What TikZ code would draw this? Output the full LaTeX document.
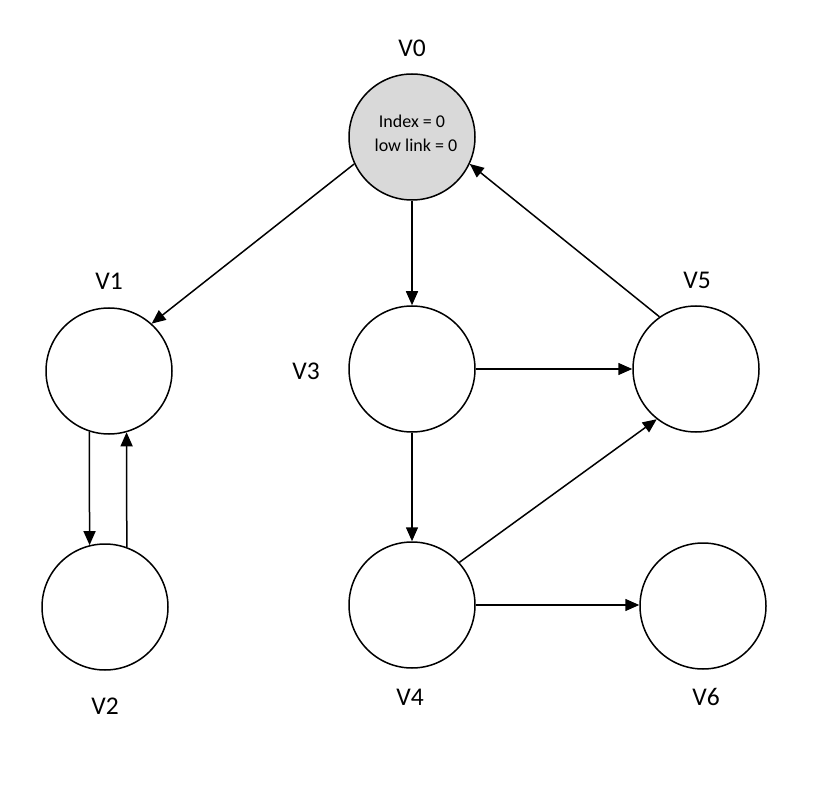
\documentclass[tikz,border=0pt]{standalone}
\usepackage{fontspec}
\setmainfont{Carlito}
\usetikzlibrary{arrows.meta}
\begin{document}
\begin{tikzpicture}[x=1pt,y=-1pt,
  vert/.style={circle,draw=black,line width=1.5pt,minimum size=126pt,inner sep=0pt},
  lbl/.style={font=\fontsize{25.5}{28}\selectfont},
  itxt/.style={font=\fontsize{18}{20}\selectfont},
  edge/.style={line width=1.5pt,-{Triangle[length=14pt,width=12pt]}}]
\useasboundingbox (0,0) rectangle (830,786);
\node[vert,fill={rgb,255:red,217;green,217;blue,217}] (v0) at (412,137) {};
\node[vert] (v1) at (109,371) {};
\node[vert] (v2) at (105,607) {};
\node[vert] (v3) at (412,369) {};
\node[vert] (v4) at (412,605) {};
\node[vert] (v5) at (696,369) {};
\node[vert] (v6) at (703,606) {};
\node[itxt] (t1) at (412,121) {Index = 0};
\node[itxt] (t2) at (416,145) {low link = 0};
\node[lbl] (l0) at (412,48) {V0};
\node[lbl] (l1) at (109,281) {V1};
\node[lbl] (l2) at (105,706) {V2};
\node[lbl] (l3) at (306,371) {V3};
\node[lbl] (l4) at (410,697) {V4};
\node[lbl] (l5) at (697,280) {V5};
\node[lbl] (l6) at (706,697) {V6};
\draw[edge] (v0.205) -- (v1.48.5);
\draw[edge] (v0.south) -- (v3.north);
\draw[edge] (v5.125) -- (v0.335);
\draw[edge] (v3.east) -- (v5.west);
\draw[edge] (v1.252) -- (v2.104.5);
\draw[edge] (v2.70) -- (v1.286);
\draw[edge] (v3.south) -- (v4.north);
\draw[edge] (v4.42) -- (v5.232);
\draw[edge] (v4.east) -- (v4.east -| v6.west);
\end{tikzpicture}
\end{document}
